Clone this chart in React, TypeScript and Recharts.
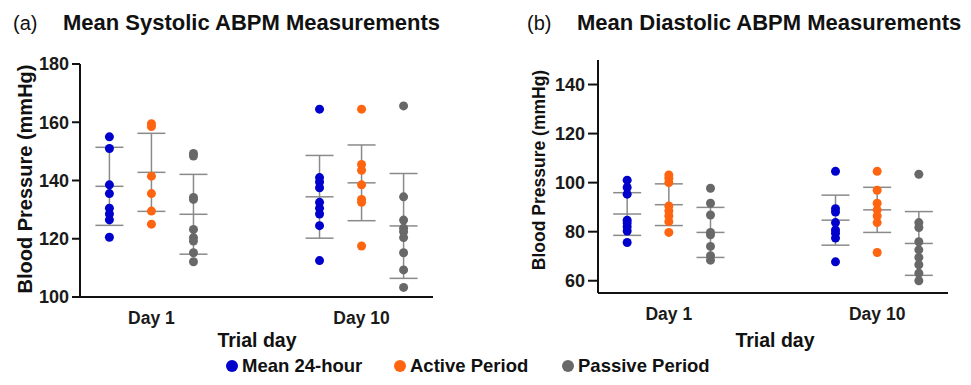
import React from "react";
import { ScatterChart, Scatter, XAxis, YAxis, ErrorBar } from "recharts";

const DAYS = ["Day 1", "Day 10"];
const SERIES_NAMES = ["Mean 24-hour", "Active Period", "Passive Period"];

// systolic, one inner array per trial day
const SYS_24H = [
  [155, 151, 138.5, 135.5, 130.5, 128.5, 126.5, 120.5],
  [164.5, 141, 139.5, 137.5, 132.5, 130.5, 128.5, 124.5, 112.5],
];
const SYS_ACTIVE = [
  [159.5, 158.5, 141.5, 135.5, 129.5, 125],
  [164.5, 145.5, 143.5, 138.5, 133.5, 132.5, 117.5],
];
const SYS_PASSIVE = [
  [149.3, 148.4, 134.2, 133.5, 123.2, 120.4, 119.2, 115.2, 112.1],
  [165.6, 134.4, 126.4, 123.6, 122.4, 120.4, 115.2, 109.3, 103.3],
];
const SYS_MEAN = [
  [138, 134.4],
  [142.8, 139.2],
  [128.4, 124.4],
];
const SYS_SD = [
  [13.4, 14.2],
  [13.4, 13],
  [13.7, 18],
];

// diastolic
const DIA_24H = [
  [101, 98, 95.3, 84.7, 83.5, 82, 80.3, 75.6],
  [104.6, 89.4, 88, 83.7, 80.7, 79.4, 77.4, 67.7],
];
const DIA_ACTIVE = [
  [103.1, 101.8, 100, 90.5, 88.5, 86.4, 84.1, 79.7],
  [104.6, 96.9, 91.6, 88.9, 86.4, 83.7, 71.5],
];
const DIA_PASSIVE = [
  [97.7, 91.6, 86.8, 79.7, 78.7, 74, 70.2, 68.4],
  [103.4, 83.7, 81.7, 75.9, 72.6, 69.5, 66.5, 63.1, 60],
];
const DIA_MEAN = [
  [87.2, 84.7],
  [91, 88.9],
  [79.7, 75.2],
];
const DIA_SD = [
  [8.7, 10.2],
  [8.5, 9.2],
  [10.2, 13],
];

const SYS_TICKS = [100, 120, 140, 160, 180];
const DIA_TICKS = [60, 80, 100, 120, 140];

const COLORS = ["#0000cc", "#ff6410", "#686868"];
const OFFSETS = [-0.2, 0, 0.2];
const FONT = "'Liberation Sans', Arial, sans-serif";
const BAR = "#8a8a8a";

const dots = (values: number[][], s: number) =>
  values.flatMap((day, d) => day.map((y) => ({ x: d + 1 + OFFSETS[s], y })));

const summary = (means: number[][], sds: number[][], s: number) =>
  means[s].map((m, d) => ({ x: d + 1 + OFFSETS[s], y: m, sd: sds[s][d] }));

const MeanLine = (p: any) => (
  <line x1={p.cx - 14} x2={p.cx + 14} y1={p.cy} y2={p.cy} stroke={BAR} strokeWidth={1.5} />
);

function Panel(props: {
  width: number;
  height: number;
  margin: any;
  yWidth: number;
  domain: number[];
  ticks: number[];
  values: number[][][];
  means: number[][];
  sds: number[][];
  tickSize: number;
}) {
  const xTick = { fontSize: 17.5, fontWeight: 700, fill: "#1a1a1a", fontFamily: FONT };
  const yTick = { fontSize: 18, fontWeight: 700, fill: "#1a1a1a", fontFamily: FONT };
  return (
    <ScatterChart width={props.width} height={props.height} margin={props.margin}>
      <XAxis
        type="number"
        dataKey="x"
        domain={[0.66, 2.34]}
        ticks={[1, 2]}
        tickFormatter={(v) => DAYS[v - 1]}
        axisLine={{ stroke: "#111", strokeWidth: 2 }}
        tickLine={false}
        tickSize={6}
        tickMargin={9}
        height={30}
        tick={xTick}
        allowDataOverflow
      />
      <YAxis
        type="number"
        dataKey="y"
        domain={props.domain}
        ticks={props.ticks}
        width={props.yWidth}
        axisLine={{ stroke: "#111", strokeWidth: 2 }}
        tickLine={{ stroke: "#111", strokeWidth: 2 }}
        tickSize={props.tickSize}
        tickMargin={3}
        tick={yTick}
        allowDataOverflow
      />
      {[0, 1, 2].map((s) => (
        <Scatter
          key={"m" + s}
          data={summary(props.means, props.sds, s)}
          shape={MeanLine}
          isAnimationActive={false}
        >
          <ErrorBar dataKey="sd" direction="y" width={14} stroke={BAR} strokeWidth={1.5} />
        </Scatter>
      ))}
      {props.values.map((v, s) => (
        <Scatter
          key={"d" + s}
          data={dots(v, s)}
          isAnimationActive={false}
          shape={(p: any) => <circle cx={p.cx} cy={p.cy} r={4.5} fill={COLORS[s]} />}
        />
      ))}
    </ScatterChart>
  );
}

export default function App() {
  const bold = { fontFamily: FONT, fontWeight: 700, fill: "#111" };
  return (
    <div style={{ position: "absolute", left: 0, top: 0, width: 971, height: 385, background: "#fff" }}>
      <div style={{ position: "absolute", left: 0, top: 0 }}>
        <Panel
          width={450}
          height={385}
          margin={{ top: 64, right: 17, bottom: 58, left: 0 }}
          yWidth={80}
          domain={[100, 180]}
          ticks={SYS_TICKS}
          values={[SYS_24H, SYS_ACTIVE, SYS_PASSIVE]}
          means={SYS_MEAN}
          sds={SYS_SD}
          tickSize={8}
        />
      </div>
      <div style={{ position: "absolute", left: 490, top: 0 }}>
        <Panel
          width={481}
          height={385}
          margin={{ top: 60, right: 23, bottom: 62, left: 0 }}
          yWidth={108}
          domain={[55, 150]}
          ticks={DIA_TICKS}
          values={[DIA_24H, DIA_ACTIVE, DIA_PASSIVE]}
          means={DIA_MEAN}
          sds={DIA_SD}
          tickSize={10}
        />
      </div>
      <svg width={971} height={385} style={{ position: "absolute", left: 0, top: 0, pointerEvents: "none" }}>
        <text x={13} y={30} fontSize={20} fontFamily={FONT} fill="#111">(a)</text>
        <text x={63} y={30} fontSize={22} {...bold}>Mean Systolic ABPM Measurements</text>
        <text x={527} y={30} fontSize={20} fontFamily={FONT} fill="#111">(b)</text>
        <text x={577} y={30} fontSize={22} {...bold}>Mean Diastolic ABPM Measurements</text>
        <text x={0} y={0} fontSize={20} textAnchor="middle" transform="translate(32,179) rotate(-90)" {...bold}>
          Blood Pressure (mmHg)
        </text>
        <text x={0} y={0} fontSize={17.5} textAnchor="middle" transform="translate(545,170) rotate(-90)" {...bold}>
          Blood Pressure (mmHg)
        </text>
        <text x={257} y={347} fontSize={19.5} textAnchor="middle" {...bold}>Trial day</text>
        <text x={775} y={347} fontSize={19.5} textAnchor="middle" {...bold}>Trial day</text>
        {SERIES_NAMES.map((name, i) => {
          const cx = [232, 400, 568][i];
          return (
            <g key={name}>
              <circle cx={cx} cy={366} r={6} fill={COLORS[i]} />
              <text x={cx + 10} y={372} fontSize={18.5} {...bold}>{name}</text>
            </g>
          );
        })}
      </svg>
    </div>
  );
}
